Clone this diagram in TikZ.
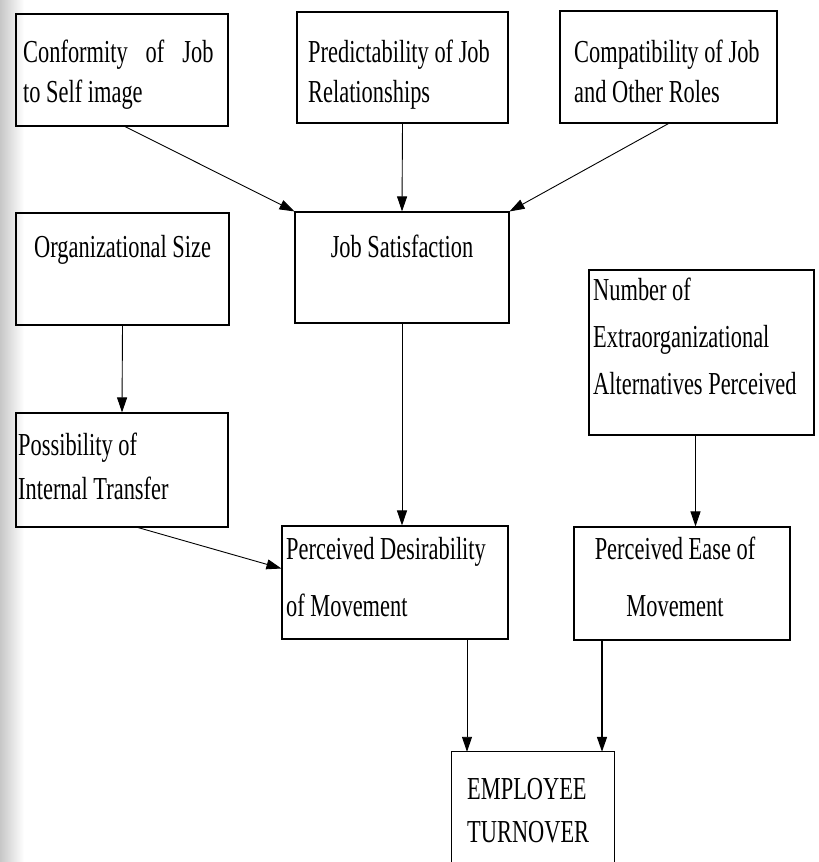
\documentclass[tikz,border=0pt]{standalone}
\usepackage{fontspec}
\setmainfont[FakeStretch=0.7]{Liberation Serif}
\usetikzlibrary{arrows.meta,fit,calc}
\tikzset{
  box/.style={draw, line width=1.1pt, inner sep=0pt},
  boxline/.style={line width=1.1pt},
  txt/.style={inner sep=0pt, anchor=north west, align=left, font=\fontsize{32}{#1}\selectfont},
  txt/.default=40,
  ctxt/.style={inner sep=0pt, anchor=north, align=center, font=\fontsize{32}{#1}\selectfont},
  ctxt/.default=40,
  arr/.style={line width=0.9pt, -{Triangle[length=15pt,width=10pt]}},
}
\begin{document}
\begin{tikzpicture}[x=1pt,y=-1pt]
\useasboundingbox (0,0) rectangle (819,862);
\fill[left color=black!22, right color=white] (0,0) rectangle (24,862);

% boxes
\node[box, fit={(16,14) (228,126)}] (b1) {};
\node[box, fit={(297,12) (508,123)}] (b2) {};
\node[box, fit={(560,11) (777,123)}] (b3) {};
\node[box, fit={(16,213) (229,325)}] (org) {};
\node[box, fit={(295,212) (509,323)}] (js) {};
\node[box, fit={(589,270) (814,435)}] (num) {};
\node[box, fit={(16,413) (228,527)}] (pos) {};
\node[box, fit={(282,526) (508,639)}] (des) {};
\node[box, fit={(574,527) (790,640)}] (ease) {};
\node[inner sep=0pt, fit={(452,752) (614,862)}] (tv) {};
\draw[boxline] (tv.south west) -- (tv.north west) -- (tv.north east) -- (tv.south east);

% texts
\node[txt] (t1) at (23,40) {Conformity\hspace{18pt}of\hspace{18pt}Job\\to Self image};
\node[txt] (t2) at (308,40) {Predictability of Job\\Relationships};
\node[txt] (t3) at (574,40) {Compatibility of Job\\and Other Roles};
\node[txt] (t4) at (34,235) {Organizational Size};
\node[ctxt] (t5) at (402,235) {Job Satisfaction};
\node[txt=47] (t6) at (593,278) {Number of\\Extraorganizational\\Alternatives Perceived};
\node[txt=44] (t7) at (18,433) {Possibility of\\Internal Transfer};
\node[txt=57] (t8) at (286,537) {Perceived Desirability\\of Movement};
\node[ctxt=57] (t9) at (675,537) {Perceived Ease of\\Movement};
\node[txt=43] (t10) at (467,778) {EMPLOYEE\\TURNOVER};

% connectors
\draw[arr] ([xshift=3pt]b1.south) -- (js.north west);
\draw[arr] (b2.south) -- (js.north);
\draw[arr] (b3.south) -- (js.north east);
\draw[arr] (org.south) -- (pos.north);
\draw[arr] (js.south) -- (js.south |- des.north);
\draw[arr] ([xshift=16pt]pos.south) -- ([yshift=14pt]des.west);
\draw[arr] ([xshift=-6pt]num.south) -- ([xshift=-6pt]num.south |- ease.north);
\draw[arr] ([xshift=72pt]des.south) -- ([xshift=72pt]des.south |- tv.north);
\draw[arr, line width=1.6pt] ([xshift=-80pt]ease.south) -- ([xshift=-80pt]ease.south |- tv.north);
\end{tikzpicture}
\end{document}
